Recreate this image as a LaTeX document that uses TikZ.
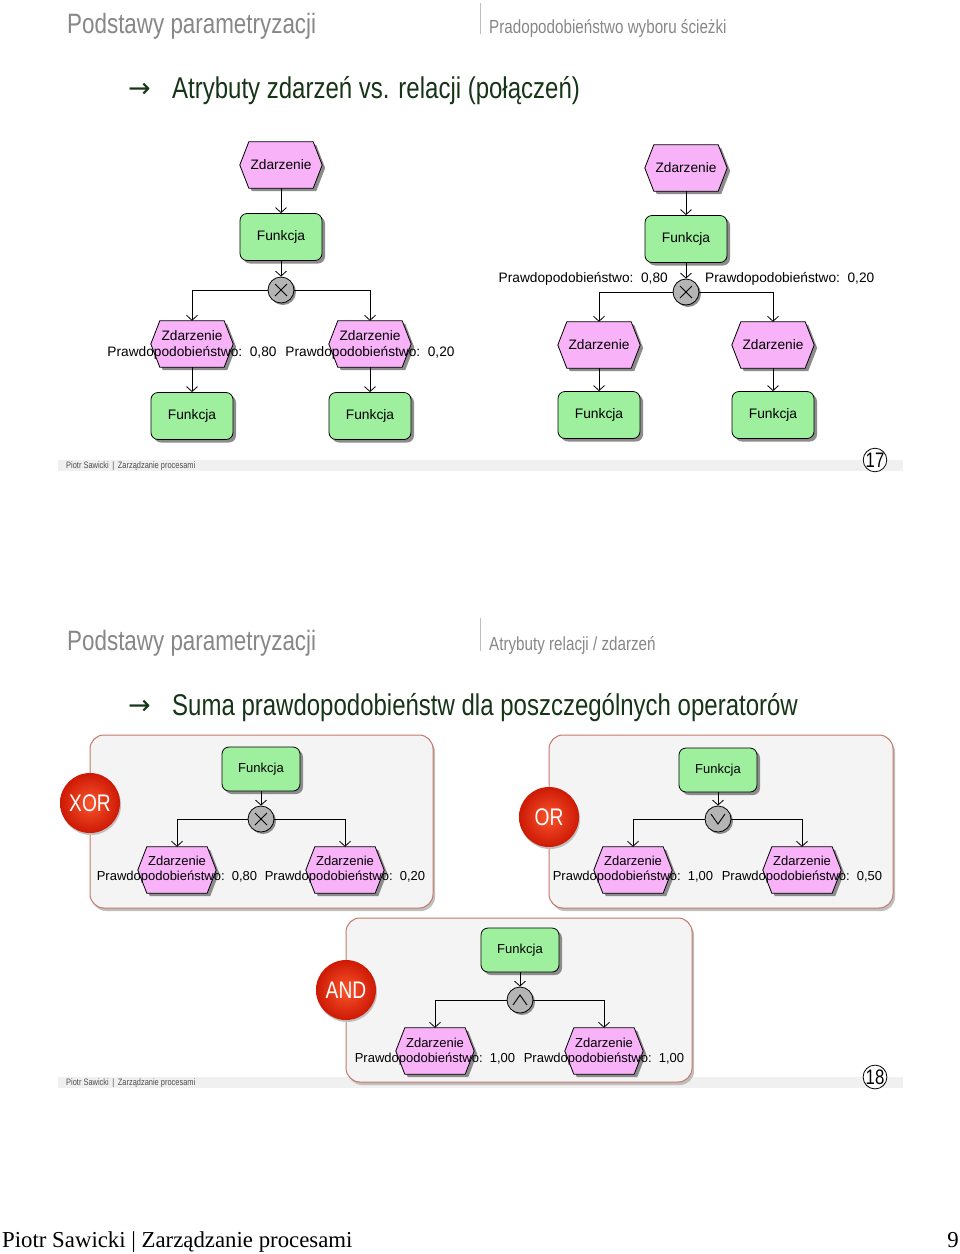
\documentclass[tikz,border=0pt]{standalone}
\usepackage{fontspec}
\setmainfont{Liberation Sans}
\newfontfamily\cond[FakeStretch=0.8]{Liberation Sans}
\newfontfamily\tnr{Liberation Serif}
\newfontfamily\dvs{DejaVu Sans}
\usetikzlibrary{arrows.meta,calc,shadows}
\definecolor{evfill}{RGB}{248,178,248}
\definecolor{fnfill}{RGB}{158,240,158}
\definecolor{gatefill}{RGB}{180,180,180}
\definecolor{hdrgray}{RGB}{135,135,135}
\definecolor{ttlgreen}{RGB}{22,52,22}
\definecolor{boxfill}{RGB}{244,244,244}
\definecolor{boxdraw}{RGB}{198,120,108}
\definecolor{bandc}{RGB}{240,240,240}
\newcommand\evt[5]{%
  \node[evbox, minimum width=#4pt, minimum height=#5pt] (#1) at (#2,#3) {};
  \fill[black!45] ($(#1.west)+(3,3)$) -- ($(#1.north west)+(12,3)$) -- ($(#1.north east)+(-6,3)$) -- ($(#1.east)+(3,3)$) -- ($(#1.south east)+(-6,3)$) -- ($(#1.south west)+(12,3)$) -- cycle;
  \filldraw[evshape] (#1.west) -- ($(#1.north west)+(9,0)$) -- ($(#1.north east)+(-9,0)$) -- (#1.east) -- ($(#1.south east)+(-9,0)$) -- ($(#1.south west)+(9,0)$) -- cycle;}
\tikzset{
  evbox/.style={draw=none, inner sep=0pt, rectangle},
  evshape/.style={draw=black, line width=0.8pt, fill=evfill},
  fn/.style={draw=black, line width=0.8pt, fill=fnfill, rounded corners=7pt, inner sep=0pt,
    drop shadow={shadow xshift=3pt, shadow yshift=-3pt, fill=black!45, opacity=1}},
  fnA/.style={fn, minimum width=82pt, minimum height=47pt, font=\fontsize{13.8}{16}\selectfont},
  fnB/.style={fn, minimum width=78pt, minimum height=44pt, font=\fontsize{13}{15}\selectfont},
  gate/.style={circle, draw=black, line width=0.8pt, fill=gatefill, minimum size=26pt, inner sep=0pt,
    drop shadow={shadow xshift=2pt, shadow yshift=-2pt, fill=black!45, opacity=1}},
  lbl/.style={inner sep=0pt, font=\fontsize{13.7}{16}\selectfont},
  lblB/.style={inner sep=0pt, font=\fontsize{13}{15}\selectfont},
  conn/.style={line width=0.8pt, -{Straight Barb[length=5pt, width=11pt, line width=0.8pt]}},
  sym/.style={line width=0.9pt},
  hdr/.style={inner sep=0pt, anchor=base west, text=hdrgray, font=\cond\fontsize{28}{30}\selectfont},
  sub/.style={inner sep=0pt, anchor=base west, text=hdrgray, font=\cond\fontsize{19}{21}\selectfont},
  ttl/.style={inner sep=0pt, anchor=base west, text=ttlgreen, font=\cond\fontsize{30}{32}\selectfont},
  arr/.style={inner sep=0pt, anchor=base west, text=ttlgreen, font=\dvs\fontsize{27}{29}\selectfont},
  foot/.style={inner sep=0pt, anchor=west, text=black!70, font=\cond\fontsize{9.3}{10}\selectfont},
  num/.style={circle, draw=black, line width=0.8pt, minimum size=23pt, inner sep=0pt, font=\cond\fontsize{21}{22}\selectfont},
  opbox/.style={draw=boxdraw, line width=1pt, fill=boxfill, rounded corners=14pt,
    drop shadow={shadow xshift=2pt, shadow yshift=-3pt, fill=black!25, opacity=1}},
  opc/.style={circle, minimum size=60pt, inner sep=0pt, text=white, font=\cond\fontsize{24}{26}\selectfont,
    inner color={rgb,255:red,250;green,85;blue,45}, outer color={rgb,255:red,205;green,25;blue,5},
    drop shadow={shadow xshift=1pt, shadow yshift=-2pt, fill=black!25, opacity=1}},
}
\begin{document}
\begin{tikzpicture}[x=1pt, y=-1pt]
\useasboundingbox (0,0) rectangle (960,1254);
\fill[white] (0,0) rectangle (960,1254);

% ===== Slide 1 header =====
\node[hdr] (h1) at (67,33) {Podstawy parametryzacji};
\draw[black!25, line width=0.8pt] (480,3) -- (480,34);
\node[sub] (s1) at (489,33) {Pradopodobieństwo wyboru ścieżki};
\node[arr] (a1) at (128,97) {→};
\node[ttl] (t1) at (172,98) {Atrybuty zdarzeń vs. relacji (połączeń)};

% ===== Slide 1 left diagram =====
\evt{E1}{281}{165}{82}{46}
\node[lbl] (E1t) at (E1) {Zdarzenie};
\node[fnA] (F1) at (281,237) {Funkcja};
\node[gate] (G1) at (281,290) {};
\draw[sym] ($(G1)+(-6,-6)$) -- ($(G1)+(6,6)$) ($(G1)+(-6,6)$) -- ($(G1)+(6,-6)$);
\evt{E2}{192}{344}{82}{46}
\evt{E3}{370}{344}{82}{46}
\node[lbl] (E2t) at (192,336) {Zdarzenie};
\node[lbl] (E2p) at (192,353) {Prawdopodobieństwo:\ \ 0,80};
\node[lbl] (E3t) at (370,336) {Zdarzenie};
\node[lbl] (E3p) at (370,353) {Prawdopodobieństwo:\ \ 0,20};
\node[fnA] (F2) at (192,416) {Funkcja};
\node[fnA] (F3) at (370,416) {Funkcja};
\draw[conn] (E1.south) -- (F1.north);
\draw[conn] (F1.south) -- (G1.north);
\draw[conn] (G1.west) -| (E2.north);
\draw[conn] (G1.east) -| (E3.north);
\draw[conn] (E2.south) -- (F2.north);
\draw[conn] (E3.south) -- (F3.north);

% ===== Slide 1 right diagram =====
\evt{E4}{686}{168}{82}{46}
\node[lbl] (E4t) at (E4) {Zdarzenie};
\node[fnA] (F4) at (686,239) {Funkcja};
\node[gate] (G2) at (686,292) {};
\draw[sym] ($(G2)+(-6,-6)$) -- ($(G2)+(6,6)$) ($(G2)+(-6,6)$) -- ($(G2)+(6,-6)$);
\node[lbl, anchor=east] (P1) at (668,279) {Prawdopodobieństwo:\ \ 0,80};
\node[lbl, anchor=west] (P2) at (705,279) {Prawdopodobieństwo:\ \ 0,20};
\evt{E5}{599}{345}{82}{46}
\evt{E6}{773}{345}{82}{46}
\node[lbl] (E5t) at (E5) {Zdarzenie};
\node[lbl] (E6t) at (E6) {Zdarzenie};
\node[fnA] (F5) at (599,415) {Funkcja};
\node[fnA] (F6) at (773,415) {Funkcja};
\draw[conn] (E4.south) -- (F4.north);
\draw[conn] (F4.south) -- (G2.north);
\draw[conn] (G2.west) -| (E5.north);
\draw[conn] (G2.east) -| (E6.north);
\draw[conn] (E5.south) -- (F5.north);
\draw[conn] (E6.south) -- (F6.north);

% ===== Slide 1 footer =====
\fill[bandc] (58,460) rectangle (903,471);
\node[foot] (ft1) at (66,466) {Piotr Sawicki \,|\, Zarządzanie procesami};
\node[num, fill=white] (n17) at (875,460) {17};

% ===== Slide 2 header =====
\node[hdr] (h2) at (67,650) {Podstawy parametryzacji};
\draw[black!25, line width=0.8pt] (480,618) -- (480,651);
\node[sub] (s2) at (489,650) {Atrybuty relacji / zdarzeń};
\node[arr] (a2) at (128,714) {→};
\node[ttl] (t2) at (172,715) {Suma prawdopodobieństw dla poszczególnych operatorów};

% ===== Slide 2 footer band (behind boxes) =====
\fill[bandc] (58,1077) rectangle (903,1088);
\node[foot] (ft2) at (66,1083) {Piotr Sawicki \,|\, Zarządzanie procesami};

% ===== XOR box =====
\node[opbox, minimum width=343pt, minimum height=173pt] (B1) at (261.5,821.5) {};
\node[opc] (C1) at (90,803) {XOR};
\node[fnB] (F7) at (261,769) {Funkcja};
\node[gate] (G3) at (261,819) {};
\draw[sym] ($(G3)+(-6,-6)$) -- ($(G3)+(6,6)$) ($(G3)+(-6,6)$) -- ($(G3)+(6,-6)$);
\evt{E7}{177}{870}{78}{46}
\evt{E8}{345}{870}{78}{46}
\node[lblB] (E7t) at (177,861) {Zdarzenie};
\node[lblB] (E7p) at (177,877) {Prawdopodobieństwo:\ \ 0,80};
\node[lblB] (E8t) at (345,861) {Zdarzenie};
\node[lblB] (E8p) at (345,877) {Prawdopodobieństwo:\ \ 0,20};
\draw[conn] (F7.south) -- (G3.north);
\draw[conn] (G3.west) -| (E7.north);
\draw[conn] (G3.east) -| (E8.north);

% ===== OR box =====
\node[opbox, minimum width=344pt, minimum height=173pt] (B2) at (721,821.5) {};
\node[opc] (C2) at (549,817) {OR};
\node[fnB] (F8) at (718,770) {Funkcja};
\node[gate] (G4) at (718,819) {};
\draw[sym] ($(G4)+(-7,-5)$) -- ($(G4)+(0,5)$) -- ($(G4)+(7,-5)$);
\evt{E9}{633}{870}{78}{46}
\evt{E10}{802}{870}{78}{46}
\node[lblB] (E9t) at (633,861) {Zdarzenie};
\node[lblB] (E9p) at (633,877) {Prawdopodobieństwo:\ \ 1,00};
\node[lblB] (E10t) at (802,861) {Zdarzenie};
\node[lblB] (E10p) at (802,877) {Prawdopodobieństwo:\ \ 0,50};
\draw[conn] (F8.south) -- (G4.north);
\draw[conn] (G4.west) -| (E9.north);
\draw[conn] (G4.east) -| (E10.north);

% ===== AND box =====
\node[opbox, minimum width=346pt, minimum height=164pt] (B3) at (519,1000) {};
\node[opc] (C3) at (346,990) {AND};
\node[fnB] (F9) at (520,950) {Funkcja};
\node[gate] (G5) at (520,1000) {};
\draw[sym] ($(G5)+(-7,5)$) -- ($(G5)+(0,-5)$) -- ($(G5)+(7,5)$);
\evt{E11}{435}{1051}{78}{46}
\evt{E12}{604}{1051}{78}{46}
\node[lblB] (E11t) at (435,1043) {Zdarzenie};
\node[lblB] (E11p) at (435,1059) {Prawdopodobieństwo:\ \ 1,00};
\node[lblB] (E12t) at (604,1043) {Zdarzenie};
\node[lblB] (E12p) at (604,1059) {Prawdopodobieństwo:\ \ 1,00};
\draw[conn] (F9.south) -- (G5.north);
\draw[conn] (G5.west) -| (E11.north);
\draw[conn] (G5.east) -| (E12.north);

\node[num, fill=white] (n18) at (875,1077) {18};

% ===== page footer =====
\node[inner sep=0pt, anchor=base west, font=\tnr\fontsize{22.8}{24}\selectfont] (pf) at (2,1247) {Piotr Sawicki | Zarządzanie procesami};
\node[inner sep=0pt, anchor=base east, font=\tnr\fontsize{22.8}{24}\selectfont] (pg) at (959,1247) {9};
\end{tikzpicture}
\end{document}
